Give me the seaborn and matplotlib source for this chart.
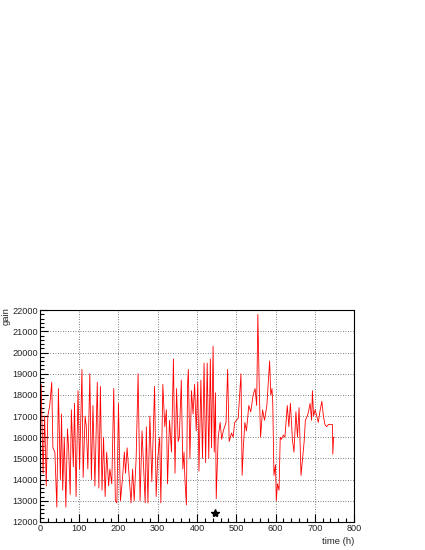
import matplotlib
matplotlib.use("Agg")
import matplotlib.pyplot as plt
import seaborn as sns
import pandas as pd
from matplotlib.ticker import MultipleLocator

# gain vs time (peaks and troughs)
time_h = [0, 3, 8, 12, 16, 20, 25, 30, 33, 38, 43, 47, 52, 55, 58, 62, 66, 70, 73, 77,
          80, 85, 88, 92, 97, 101, 107, 110, 115, 118, 122, 127, 131, 135, 140, 146, 150, 154, 158, 162,
          166, 170, 175, 178, 183, 188, 192, 196, 200, 205, 210, 215, 218, 222, 227, 232, 236, 240, 245, 250,
          255, 260, 263, 268, 271, 275, 280, 285, 292, 296, 300, 305, 308, 313, 318, 322, 325, 330, 335, 340,
          344, 348, 352, 355, 360, 364, 367, 369, 373, 376, 378, 382, 386, 390, 394, 398, 402, 405, 410, 414,
          418, 422, 426, 430, 434, 437, 441, 444, 447, 449, 454, 459, 463, 467, 474, 478, 482, 488, 492, 496,
          505, 512, 515, 518, 522, 526, 532, 537, 543, 548, 552, 555, 559, 562, 567, 572, 578, 585, 588, 591,
          593, 596, 600, 602, 605, 609, 612, 615, 620, 624, 630, 634, 638, 643, 647, 652, 656, 660, 665, 668,
          673, 676, 681, 684, 688, 692, 694, 697, 701, 705, 709, 713, 718, 722, 726, 730, 735, 739, 745, 746,
          748, 750]
gain = [16500, 18500, 14300, 17000, 13700, 17000, 17500, 18600, 15500, 15300, 12700, 18300, 14000, 17100, 13500, 16000, 12700, 16400, 15500, 13300,
        17300, 14600, 17600, 13200, 18200, 14500, 19200, 14100, 17000, 16500, 14500, 19000, 14000, 17500, 13700, 18600, 13600, 18400, 13500, 16000,
        13200, 15300, 13700, 14500, 13800, 18300, 13000, 12900, 17600, 13000, 14000, 15300, 14300, 15500, 14200, 12900, 14500, 13000, 15000, 19000,
        13000, 16300, 15000, 12900, 16500, 12900, 17000, 13900, 18400, 13200, 15000, 16000, 12900, 18500, 16500, 17300, 13800, 16800, 15300, 19700,
        14300, 18300, 15800, 16000, 18700, 14500, 15300, 14100, 12800, 18500, 19200, 15000, 18200, 17100, 18500, 16300, 18600, 14400, 18700, 15000,
        19500, 14800, 19500, 15000, 19700, 15500, 20300, 15300, 18100, 13100, 16000, 16700, 15900, 16300, 16700, 19200, 15800, 16200, 16000, 16700,
        16900, 19000, 14200, 15500, 16700, 16300, 17500, 17200, 18000, 18300, 17500, 21800, 18000, 16000, 17300, 16800, 17500, 19600, 18000, 18300,
        17600, 14200, 14700, 13000, 13800, 13500, 16000, 15900, 16100, 16000, 17500, 16500, 17600, 15900, 15300, 17200, 16000, 17400, 14200, 14800,
        15800, 16800, 17000, 17200, 17600, 16800, 18200, 17000, 17300, 17000, 16700, 17200, 17700, 17000, 16600, 16500, 16600, 16600, 16600, 15200,
        16000, 16000]

star_time = [447]
star_gain = [12430]

df = pd.DataFrame({"time (h)": time_h, "gain": gain})

sns.set_style("white")
plt.rcParams["font.family"] = ["Liberation Sans", "DejaVu Sans"]

fig = plt.figure(figsize=(4.25, 5.5), dpi=100)
ax = fig.add_axes([0.094, 0.051, 0.739, 0.385])

sns.lineplot(data=df, x="time (h)", y="gain", sort=False, estimator=None,
             color="#ff0000", linewidth=0.6, ax=ax)
ax.plot(star_time, star_gain, marker="*", color="black", markersize=6, linestyle="none")

ax.set_xlim(0, 800)
ax.set_ylim(12000, 22000)
ax.xaxis.set_major_locator(MultipleLocator(100))
ax.xaxis.set_minor_locator(MultipleLocator(20))
ax.yaxis.set_major_locator(MultipleLocator(1000))
ax.yaxis.set_minor_locator(MultipleLocator(200))
ax.tick_params(which="both", direction="in", bottom=True, left=True, top=False, right=False,
               labelsize=6.6, pad=1.5, width=0.8, color="black")
ax.tick_params(which="major", length=6)
ax.tick_params(which="minor", length=3)
ax.grid(True, which="major", linestyle=(0, (1, 2)), color="#555555", linewidth=0.6)

for s in ax.spines.values():
    s.set_color("black")
    s.set_linewidth(0.8)

ax.set_xlabel("")
ax.set_ylabel("")
fig.text(0.833, 0.008, "time (h)", ha="right", va="bottom", fontsize=6.8)
fig.text(0.004, 0.441, "gain", ha="left", va="top", rotation=90, fontsize=6.8)

plt.savefig("out.png", dpi=100)
